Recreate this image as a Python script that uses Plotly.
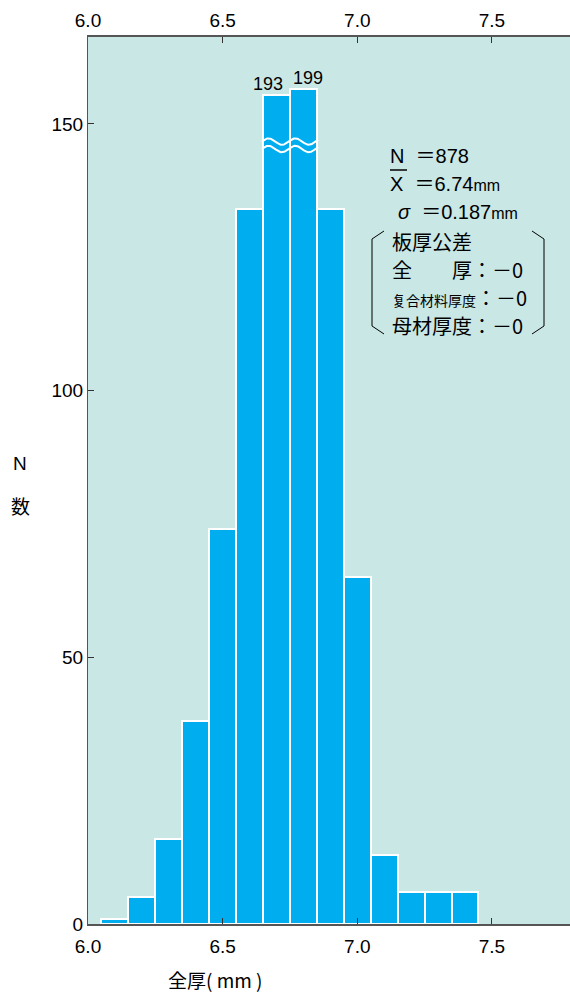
import plotly.graph_objects as go
import numpy as np

# ---- data ----
thickness = [6.1, 6.2, 6.3, 6.4, 6.5, 6.6, 6.7, 6.8, 6.9, 7.0, 7.1, 7.2, 7.3, 7.4]
counts = [1, 5, 16, 38, 74, 134, 193, 199, 134, 65, 13, 6, 6, 6]
x_ticks = [6.0, 6.5, 7.0, 7.5]
x_tick_labels = ["6.0", "6.5", "7.0", "7.5"]
y_ticks = [0, 50, 100, 150]
y_tick_labels = ["0", "50", "100", "150"]
stats_lines = [("N  ＝878", 388), ("X  ＝6.74<span style='font-size:16px'>mm</span>", 388),
               ("<i>σ</i>  ＝0.187<span style='font-size:16px'>mm</span>", 396)]
tol_title = "板厚公差"
tol_lines = ["全　　厚：－0",
             "<span style='font-size:14px'>复合材料厚度</span>：－0",
             "母材厚度：－0"]

# broken axis: values above BREAK are compressed
BREAK = 146
COMPRESS = 0.2
disp = [c if c <= BREAK else BREAK + (c - BREAK) * COMPRESS for c in counts]

W, H = 570, 994
L, R, T, B = 88, 0, 37, 70
pw, ph = W - L - R, H - T - B

def px(x):
    return (x - L) / pw

def py(y):
    return (H - B - y) / ph

LAT = "Liberation Sans, Arial, Noto Sans CJK JP"
CJK = "Noto Sans CJK JP, Liberation Sans"
BG = "#c9e7e4"
BAR = "#00aeef"

fig = go.Figure()
fig.add_trace(go.Bar(
    x=thickness, y=disp, width=0.1,
    marker=dict(color=BAR, line=dict(color="white", width=2)),
    showlegend=False, hoverinfo="skip",
))

# labels for broken bars (pushed slightly apart so they do not collide)
broken = [(xv, c, d) for xv, c, d in zip(thickness, counts, disp) if c > BREAK]
for k, (xv, c, d) in enumerate(broken):
    shift = -8 if k == 0 else 5
    fig.add_annotation(x=xv, y=d, text=str(c), showarrow=False,
                       xanchor="center", yanchor="bottom", yshift=0, xshift=shift,
                       borderpad=0,
                       font=dict(size=18, color="black", family=LAT))

# wavy break marks
broken_x = [b[0] for b in broken]
xs = np.linspace(min(broken_x) - 0.055, max(broken_x) + 0.055, 80)
wave = 0.6 * np.sin((xs - xs[0]) / 0.1 * 2 * np.pi)
for off in (-0.7, 0.7):
    fig.add_trace(go.Scatter(x=xs, y=BREAK + off + wave, mode="lines",
                             line=dict(color="white", width=2),
                             showlegend=False, hoverinfo="skip"))

fig.update_layout(
    width=W, height=H,
    margin=dict(l=L, r=R, t=T, b=B),
    paper_bgcolor="white", plot_bgcolor=BG,
    bargap=0,
    xaxis=dict(range=[6.0, 7.79], tickvals=x_ticks, ticktext=x_tick_labels,
               ticks="inside", ticklen=6, tickcolor="#333", ticklabelstandoff=4,
               showgrid=False, zeroline=False, showline=True, linecolor="#555", linewidth=2,
               tickfont=dict(size=19, color="black", family=LAT)),
    xaxis2=dict(range=[6.0, 7.79], tickvals=x_ticks, ticktext=x_tick_labels,
                overlaying="x", side="top", anchor="y",
                ticks="inside", ticklen=6, tickcolor="#333",
                showgrid=False, zeroline=False, showline=True, linecolor="#555", linewidth=2,
                tickfont=dict(size=19, color="black", family=LAT)),
    yaxis=dict(range=[0, 166.3], tickvals=y_ticks, ticktext=y_tick_labels,
               ticks="inside", ticklen=6, tickcolor="#333",
               showgrid=False, zeroline=False, showline=True, linecolor="#555", linewidth=1,
               tickfont=dict(size=19, color="black", family=LAT)),
)
# dummy trace to activate top axis
fig.add_trace(go.Scatter(x=[6.0], y=[0], xaxis="x2", mode="markers",
                         marker=dict(opacity=0), showlegend=False, hoverinfo="skip"))

# axis titles
fig.add_annotation(xref="paper", yref="paper", x=px(215), y=py(979), text="全厚( mm )",
                   xanchor="center", yanchor="middle", borderpad=0,
                   showarrow=False, font=dict(size=19, color="black", family=CJK))
fig.add_annotation(xref="paper", yref="paper", x=px(20), y=py(463), text="N",
                   xanchor="center", yanchor="middle",
                   showarrow=False, font=dict(size=19, color="black", family=LAT))
fig.add_annotation(xref="paper", yref="paper", x=px(20), y=py(505), text="数",
                   xanchor="center", yanchor="middle",
                   showarrow=False, font=dict(size=19, color="black", family=CJK))

# stats text
for i, (s, xl) in enumerate(stats_lines):
    fig.add_annotation(xref="paper", yref="paper", x=px(xl), y=py(156 + 28 * i),
                       text=s, showarrow=False, xanchor="left", yanchor="middle",
                       font=dict(size=20, color="black", family=LAT))
# overline for X
fig.add_shape(type="line", xref="paper", yref="paper",
              x0=px(390), x1=px(407), y0=py(170), y1=py(170),
              line=dict(color="black", width=1.5))

fig.add_annotation(xref="paper", yref="paper", x=px(390), y=py(241), text=tol_title,
                   showarrow=False, xanchor="left", yanchor="middle",
                   font=dict(size=20, color="black", family=CJK))
for i, s in enumerate(tol_lines):
    fig.add_annotation(xref="paper", yref="paper", x=px(390), y=py(269 + 28 * i),
                       text=s, showarrow=False, xanchor="left", yanchor="middle",
                       font=dict(size=20, color="black", family=CJK))

# brackets
def path(points):
    return "M " + " L ".join(f"{px(a)},{py(b)}" for a, b in points)

fig.add_shape(type="path", xref="paper", yref="paper",
              path=path([(384, 231), (372, 239), (372, 326), (384, 334)]),
              line=dict(color="black", width=1))
fig.add_shape(type="path", xref="paper", yref="paper",
              path=path([(532, 231), (544, 239), (544, 326), (532, 334)]),
              line=dict(color="black", width=1))

fig.write_html("out.html")
